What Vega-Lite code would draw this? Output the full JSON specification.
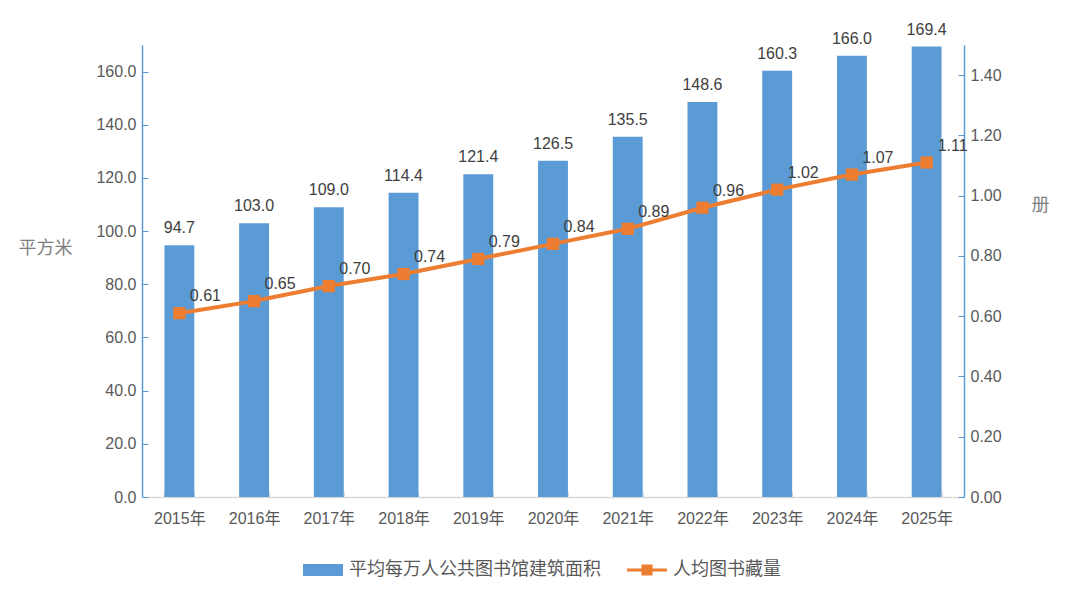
{
  "$schema": "https://vega.github.io/schema/vega-lite/v6.json",
  "autosize": "none",
  "width": 822,
  "height": 452,
  "padding": {"left": 142, "top": 45, "right": 116, "bottom": 103},
  "background": "#ffffff",
  "data": {
    "values": [
      {"year": "2015年", "area": 94.7, "books": 0.61},
      {"year": "2016年", "area": 103.0, "books": 0.65},
      {"year": "2017年", "area": 109.0, "books": 0.70},
      {"year": "2018年", "area": 114.4, "books": 0.74},
      {"year": "2019年", "area": 121.4, "books": 0.79},
      {"year": "2020年", "area": 126.5, "books": 0.84},
      {"year": "2021年", "area": 135.5, "books": 0.89},
      {"year": "2022年", "area": 148.6, "books": 0.96},
      {"year": "2023年", "area": 160.3, "books": 1.02},
      {"year": "2024年", "area": 166.0, "books": 1.07},
      {"year": "2025年", "area": 169.4, "books": 1.11}
    ]
  },
  "encoding": {
    "x": {
      "field": "year",
      "type": "nominal",
      "sort": null,
      "scale": {"paddingInner": 0.6, "paddingOuter": 0.3},
      "axis": {
        "title": null,
        "labelAngle": 0,
        "domainColor": "#d9d9d9",
        "domainWidth": 1.5,
        "tickColor": "#d9d9d9",
        "tickBand": "extent",
        "tickSize": -6,
        "labelPadding": 19,
        "labelFontSize": 16,
        "labelColor": "#595959",
        "grid": false
      }
    }
  },
  "layer": [
    {
      "encoding": {
        "y": {
          "field": "area",
          "type": "quantitative",
          "scale": {"domain": [0, 170], "nice": false},
          "axis": {
            "title": "平方米",
            "titleAngle": 0,
            "titleX": -97,
            "titleY": 203,
            "titleAlign": "center",
            "titleBaseline": "middle",
            "titleFontSize": 18,
            "titleFontWeight": "normal",
            "titleColor": "#7f7f7f",
            "values": [0, 20, 40, 60, 80, 100, 120, 140, 160],
            "format": ".1f",
            "domainColor": "#5b9bd5",
            "domainWidth": 1.5,
            "tickColor": "#5b9bd5",
            "tickSize": -6,
            "labelPadding": 12,
            "labelFontSize": 16,
            "labelColor": "#595959",
            "grid": false
          }
        }
      },
      "layer": [
        {
          "mark": {"type": "bar", "color": "#5b9bd5"},
          "encoding": {
            "color": {
              "datum": "平均每万人公共图书馆建筑面积",
              "type": "nominal",
              "legend": {
                "encode": {
                  "symbols": {
                    "update": {
                      "shape": {"signal": "datum.value === '人均图书藏量' ? 'M-1,-0.08H-0.28V-0.28H0.28V-0.08H1V0.08H0.28V0.28H-0.28V0.08H-1Z' : 'M-1,-0.3H1V0.3H-1Z'"},
                      "fill": {"signal": "datum.value === '人均图书藏量' ? '#ed7d31' : '#5b9bd5'"},
                      "stroke": {"value": "transparent"},
                      "strokeWidth": {"value": 0},
                      "opacity": {"value": 1}
                    }
                  }
                }
              }
            }
          }
        },
        {
          "mark": {
            "type": "text",
            "baseline": "alphabetic",
            "dy": -12,
            "fontSize": 16,
            "color": "#404040"
          },
          "encoding": {
            "text": {"field": "area", "type": "quantitative", "format": ".1f"}
          }
        }
      ]
    },
    {
      "encoding": {
        "y": {
          "field": "books",
          "type": "quantitative",
          "scale": {"domain": [0, 1.5], "nice": false},
          "axis": {
            "orient": "right",
            "title": "册",
            "titleAngle": 0,
            "titleX": 76,
            "titleY": 160,
            "titleAlign": "center",
            "titleBaseline": "middle",
            "titleFontSize": 18,
            "titleFontWeight": "normal",
            "titleColor": "#7f7f7f",
            "values": [0, 0.2, 0.4, 0.6, 0.8, 1.0, 1.2, 1.4],
            "format": ".2f",
            "domainColor": "#5b9bd5",
            "domainWidth": 1.5,
            "tickColor": "#5b9bd5",
            "tickSize": -6,
            "labelPadding": 12,
            "labelFontSize": 16,
            "labelColor": "#595959",
            "grid": false
          }
        }
      },
      "layer": [
        {
          "mark": {"type": "line", "strokeWidth": 4, "color": "#ed7d31"},
          "encoding": {
            "color": {"datum": "人均图书藏量", "type": "nominal"}
          }
        },
        {
          "mark": {
            "type": "point",
            "shape": "square",
            "filled": true,
            "size": 150,
            "opacity": 1,
            "color": "#ed7d31"
          }
        },
        {
          "mark": {
            "type": "text",
            "align": "center",
            "baseline": "middle",
            "dx": 26,
            "dy": -17,
            "fontSize": 16,
            "color": "#404040"
          },
          "encoding": {
            "text": {"field": "books", "type": "quantitative", "format": ".2f"}
          }
        }
      ]
    }
  ],
  "resolve": {"scale": {"y": "independent"}},
  "config": {
    "font": "Liberation Sans, Noto Sans CJK SC, sans-serif",
    "view": {"stroke": null},
    "axis": {"labelFont": "Liberation Sans, Noto Sans CJK SC, sans-serif", "titleFont": "Noto Sans CJK SC"},
    "range": {"category": ["#5b9bd5", "#ed7d31"]},
    "legend": {
      "orient": "none",
      "legendX": 161,
      "legendY": 505,
      "direction": "horizontal",
      "title": null,
      "labelFontSize": 18,
      "labelColor": "#595959",
      "labelFont": "Noto Sans CJK SC",
      "symbolSize": 1600,
      "columnPadding": 26,
      "labelOffset": 6,
      "labelLimit": 400
    }
  }
}
